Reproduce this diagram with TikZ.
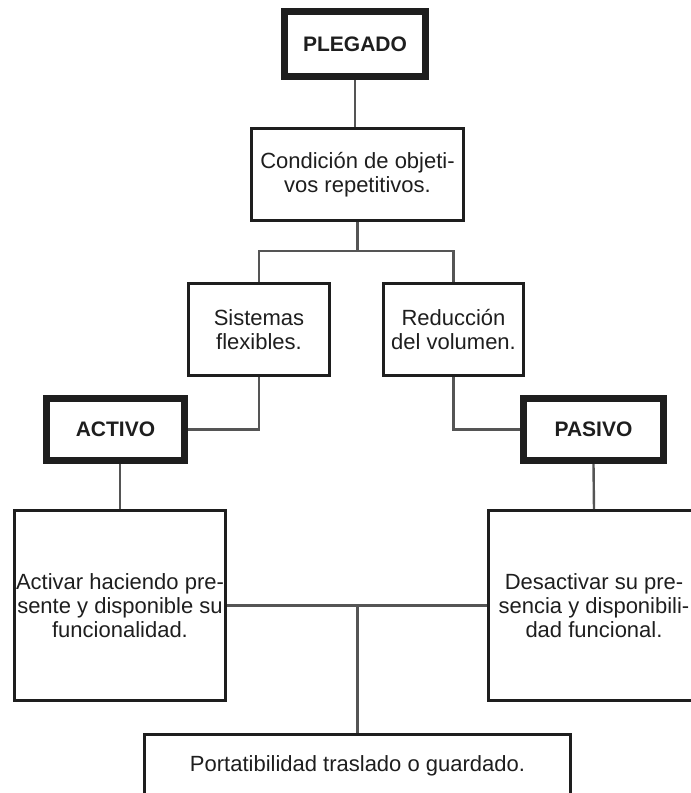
\documentclass[tikz,border=0pt]{standalone}
\usepackage{fontspec}
\setmainfont{Liberation Sans}
\usetikzlibrary{positioning}
\definecolor{ink}{HTML}{1E1E1E}
\definecolor{wiregray}{HTML}{555555}

\begin{document}
\begin{tikzpicture}[x=1pt,y=1pt]
\tikzstyle{every node}+=[inner sep=0pt, text=ink, font=\fontsize{22}{24}\selectfont]
\tikzstyle{plain box}=[draw=ink, line width=3pt, rectangle, align=center]
\tikzstyle{title box}=[draw=ink, line width=7pt, rectangle, align=center, font=\fontsize{21}{24}\selectfont\bfseries]
\tikzstyle{wire}=[draw=wiregray, line width=2.4pt]
\useasboundingbox (0,0) rectangle (691,-793);
\clip (0,0) rectangle (691,-793);
\node [title box, minimum width=141pt, minimum height=65pt] (plegado) at (355,-44) {PLEGADO};
\node [plain box, minimum width=212pt, minimum height=92pt] (condicion) at (357.5,-174.5) {Condición de objeti-\\vos repetitivos.};
\node [plain box, minimum width=141pt, minimum height=92pt] (sistemas) at (259,-329.5) {Sistemas\\flexibles.};
\node [plain box, minimum width=140pt, minimum height=92pt] (reduccion) at (453.5,-329.5) {Reducción\\del volumen.};
\node [title box, minimum width=138pt, minimum height=62pt] (activo) at (115.5,-429.5) {ACTIVO};
\node [title box, minimum width=140pt, minimum height=62pt] (pasivo) at (593.5,-429.5) {PASIVO};
\node [plain box, minimum width=211pt, minimum height=190pt] (activar) at (120,-605.5) {Activar haciendo pre-\\sente y disponible su\\funcionalidad.};
\node [plain box, minimum width=211pt, minimum height=190pt] (desactivar) at (594,-605.5) {Desactivar su pre-\\sencia y disponibili-\\dad funcional.};
\node [plain box, minimum width=426pt, minimum height=64pt] (portatil) at (357.5,-766) {Portatibilidad traslado o guardado.};
\coordinate (splittop) at (357.5,-251);
\coordinate (splitlow) at (portatil.north |- activar.east);
\draw [wire] (plegado.south) -- (plegado.south |- condicion.north);
\draw [wire] (condicion.south) -- (splittop);
\draw [wire] (sistemas.north) |- (splittop) -| (reduccion.north);
\draw [wire] (sistemas.south) |- (activo.east);
\draw [wire] (reduccion.south) |- (pasivo.west);
\draw [wire] (activar.north |- activo.south) -- (activar.north);
\draw [wire] (pasivo.south) -- (desactivar.north);
\draw [wire] (activar.east) -- (desactivar.west);
\draw [wire] (splitlow) -- (portatil.north);
\end{tikzpicture}
\end{document}
